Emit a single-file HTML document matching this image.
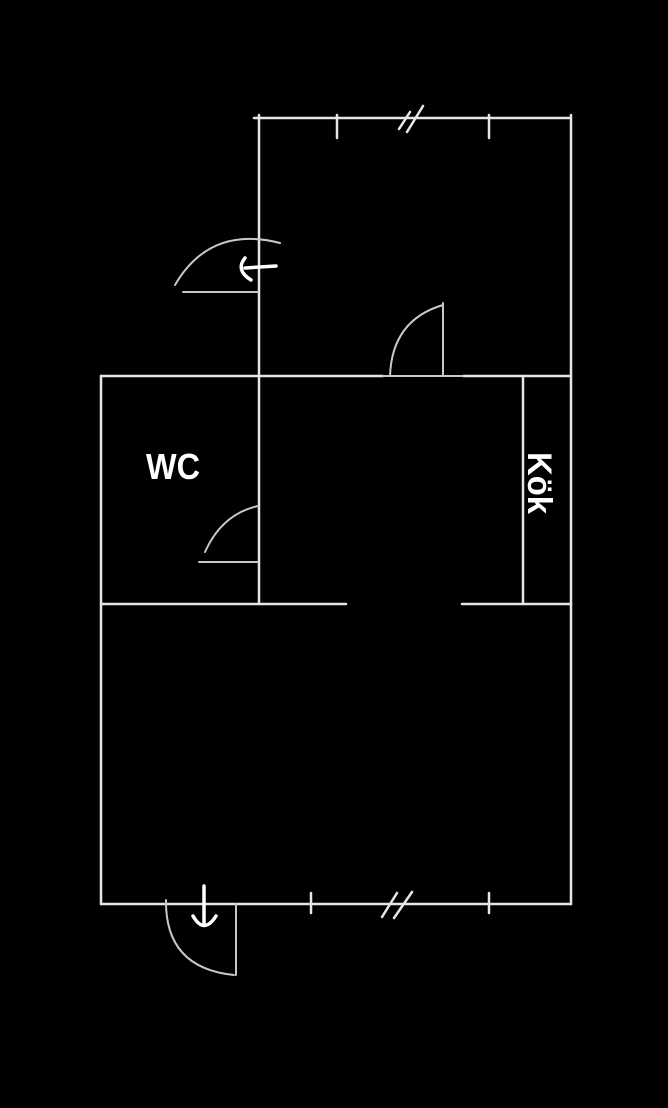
<!DOCTYPE html>
<html><head><meta charset="utf-8"><style>
html,body{margin:0;padding:0;background:#000;}
svg{display:block;}
</style></head><body>
<svg width="668" height="1108" viewBox="0 0 668 1108" xmlns="http://www.w3.org/2000/svg">
<rect width="668" height="1108" fill="#000"/>
<g stroke="#e6e6e6" stroke-width="2.5" fill="none" stroke-linecap="round">
  <line x1="254" y1="118" x2="570" y2="118"/>
  <line x1="259" y1="115" x2="259" y2="604"/>
  <line x1="571" y1="115" x2="571" y2="904"/>
  <line x1="337" y1="115" x2="337" y2="138"/>
  <line x1="489" y1="115" x2="489" y2="138"/>
  <line x1="399" y1="129" x2="410" y2="112"/>
  <line x1="407" y1="132" x2="423" y2="106"/>
  <line x1="101" y1="376" x2="383" y2="376"/>
  <line x1="463" y1="376" x2="571" y2="376"/>
  <line x1="101" y1="376" x2="101" y2="904"/>
  <line x1="101" y1="604" x2="346" y2="604"/>
  <line x1="462" y1="604" x2="571" y2="604"/>
  <line x1="523" y1="376" x2="523" y2="604"/>
  <line x1="101" y1="904" x2="571" y2="904"/>
  <line x1="311" y1="893" x2="311" y2="913"/>
  <line x1="489" y1="893" x2="489" y2="913"/>
  <line x1="382" y1="917" x2="397" y2="893"/>
  <line x1="394" y1="918" x2="412" y2="892"/>
</g>
<g stroke="#c8c8c8" stroke-width="2" fill="none" stroke-linecap="round">
  <line x1="183" y1="292" x2="258" y2="292"/>
  <path d="M175,285 Q210,225 280,243"/>
  <line x1="383" y1="376" x2="463" y2="376"/>
  <line x1="443" y1="303" x2="443" y2="376"/>
  <path d="M390,376 Q392,320 443,305"/>
  <line x1="199" y1="562" x2="258" y2="562"/>
  <path d="M205,552 Q222,514 258,506"/>
  <line x1="236" y1="904" x2="236" y2="975"/>
  <path d="M166,900 Q165,968 234,975"/>
</g>
<g stroke="#fff" stroke-width="3.5" fill="none" stroke-linecap="round" stroke-linejoin="round">
  <line x1="276" y1="266" x2="245" y2="268"/>
  <path d="M245,258 Q235,270 251,280"/>
  <line x1="204" y1="886" x2="204" y2="925"/>
  <path d="M193,916 Q204,935 216,916"/>
</g>
<text x="146" y="479" fill="#fff" font-family="Liberation Sans, sans-serif" font-size="36" font-weight="bold" textLength="54" lengthAdjust="spacingAndGlyphs">WC</text>
<text transform="translate(528,452) rotate(90)" fill="#fff" font-family="Liberation Sans, sans-serif" font-size="34" font-weight="bold" textLength="62" lengthAdjust="spacingAndGlyphs">Kök</text>
</svg>
</body></html>
